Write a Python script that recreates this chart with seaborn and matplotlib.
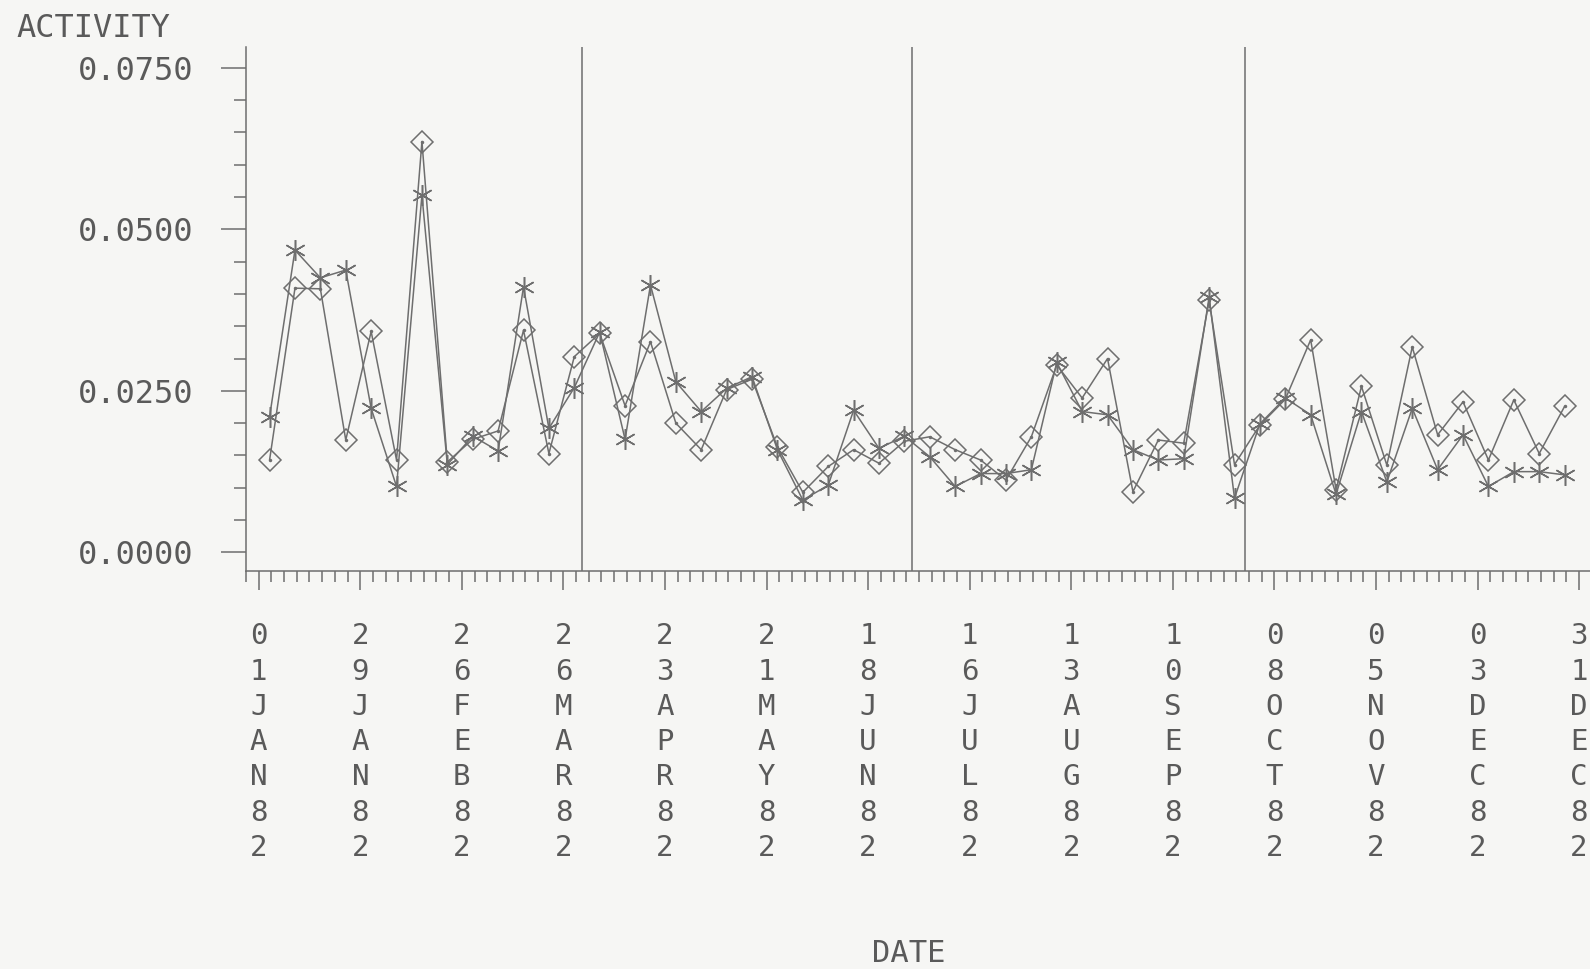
import numpy as np
import pandas as pd
import matplotlib
matplotlib.use("Agg")
import matplotlib.pyplot as plt
import matplotlib.dates as mdates
from matplotlib.ticker import FixedLocator, MultipleLocator
import seaborn as sns

# Weekly sampling dates (1982)
sample_dates = pd.date_range("1982-01-04", periods=52, freq="7D")

# Weekly activity, first detector (diamond symbols)
activity_diamond = [
    0.0143, 0.0409, 0.0408, 0.0174, 0.0342, 0.0143, 0.0636, 0.0140, 0.0175, 0.0188,
    0.0344, 0.0153, 0.0303, 0.0339, 0.0227, 0.0326, 0.0200, 0.0159, 0.0252, 0.0268,
    0.0163, 0.0093, 0.0133, 0.0159, 0.0138, 0.0172, 0.0179, 0.0159, 0.0143, 0.0112,
    0.0179, 0.0290, 0.0239, 0.0300, 0.0094, 0.0174, 0.0169, 0.0390, 0.0136, 0.0197,
    0.0237, 0.0329, 0.0097, 0.0257, 0.0135, 0.0318, 0.0182, 0.0233, 0.0143, 0.0236,
    0.0153, 0.0226,
]

# Weekly activity, second detector (asterisk symbols)
activity_asterisk = [
    0.0210, 0.0468, 0.0425, 0.0437, 0.0223, 0.0102, 0.0553, 0.0136, 0.0180, 0.0157,
    0.0411, 0.0192, 0.0255, 0.0341, 0.0175, 0.0414, 0.0264, 0.0218, 0.0254, 0.0272,
    0.0159, 0.0081, 0.0104, 0.0220, 0.0161, 0.0180, 0.0148, 0.0102, 0.0122, 0.0122,
    0.0128, 0.0294, 0.0218, 0.0213, 0.0159, 0.0143, 0.0145, 0.0395, 0.0084, 0.0199,
    0.0239, 0.0213, 0.0090, 0.0218, 0.0109, 0.0223, 0.0128, 0.0182, 0.0102, 0.0125,
    0.0125, 0.0120,
]

# Labelled date ticks (every four weeks)
tick_dates = pd.date_range("1982-01-01", periods=14, freq="28D")
tick_labels = [
    "01JAN82", "29JAN82", "26FEB82", "26MAR82", "23APR82", "21MAY82", "18JUN82",
    "16JUL82", "13AUG82", "10SEP82", "08OCT82", "05NOV82", "03DEC82", "31DEC82",
]

# Calendar quarter boundaries
quarter_ends = pd.to_datetime(["1982-03-31", "1982-06-30", "1982-09-30"])

y_ticks = [0.0, 0.025, 0.05, 0.075]
y_labels = ["0.0000", "0.0250", "0.0500", "0.0750"]

df = pd.DataFrame({
    "date": sample_dates,
    "diamond": activity_diamond,
    "asterisk": activity_asterisk,
})

sns.set_style("white")
plt.rcParams["font.family"] = ["DejaVu Sans Mono", "DejaVu Sans"]

ink = "#6e6e6e"
text_ink = "#5a5a5a"
paper = "#f6f6f4"

fig = plt.figure(figsize=(15.9, 9.69), dpi=100, facecolor=paper)
ax = fig.add_axes([246 / 1590, 398 / 969, (1590 - 246) / 1590, (922 - 398) / 969])
ax.set_facecolor(paper)

sns.lineplot(data=df, x="date", y="diamond", ax=ax, sort=False, estimator=None,
             color=ink, linewidth=1.1, marker="D", markersize=11,
             markerfacecolor="none", markeredgecolor=ink, markeredgewidth=1.1)
sns.lineplot(data=df, x="date", y="diamond", ax=ax, sort=False, estimator=None,
             color=ink, linewidth=0, marker="o", markersize=2.5,
             markerfacecolor=ink, markeredgecolor=ink, markeredgewidth=0)
sns.lineplot(data=df, x="date", y="asterisk", ax=ax, sort=False, estimator=None,
             color=ink, linewidth=1.1, marker=(6, 2, 0), markersize=15,
             markerfacecolor=ink, markeredgecolor=ink, markeredgewidth=1.1)

for q in quarter_ends:
    ax.axvline(q, color=ink, linewidth=1.1)

start = pd.Timestamp("1982-01-01")
ax.set_xlim(start - pd.Timedelta(hours=84), start + pd.Timedelta(days=367))
ax.set_ylim(-0.00288, 0.07823)

ax.xaxis.set_major_locator(FixedLocator(mdates.date2num(tick_dates)))
ax.set_xticklabels(["\n".join(lbl) for lbl in tick_labels])
minor_dates = pd.date_range(start - pd.Timedelta(hours=84),
                            start + pd.Timedelta(days=367), freq="84h")
ax.xaxis.set_minor_locator(FixedLocator(mdates.date2num(minor_dates)))

ax.set_yticks(y_ticks)
ax.set_yticklabels(y_labels)
ax.yaxis.set_minor_locator(MultipleLocator(0.005))

for lbl in ax.get_xticklabels():
    lbl.set_linespacing(1.33)
    lbl.set_multialignment("center")

ax.tick_params(axis="x", which="both", bottom=True, top=False)
ax.tick_params(axis="y", which="both", left=True, right=False)
ax.tick_params(axis="x", which="major", direction="out", length=14, width=1.1,
               color=ink, pad=23, labelsize=21, labelcolor=text_ink)
ax.tick_params(axis="x", which="minor", direction="out", length=8, width=1.1,
               color=ink)
ax.tick_params(axis="y", which="major", direction="out", length=18, width=1.1,
               color=ink, pad=20, labelsize=23, labelcolor=text_ink)
ax.tick_params(axis="y", which="minor", direction="out", length=9, width=1.1,
               color=ink)

for side in ["top", "right"]:
    ax.spines[side].set_visible(False)
for side in ["left", "bottom"]:
    ax.spines[side].set_color(ink)
    ax.spines[side].set_linewidth(1.1)

ax.set_xlabel("")
ax.set_ylabel("")

fig.text(16 / 1590, 1 - 28.5 / 969, "ACTIVITY", ha="left", va="center",
         fontsize=23, color=text_ink)
fig.text(909 / 1590, 1 - 953 / 969, "DATE", ha="center", va="center",
         fontsize=22, color=text_ink)

fig.savefig("out.png", dpi=100, facecolor=paper)
